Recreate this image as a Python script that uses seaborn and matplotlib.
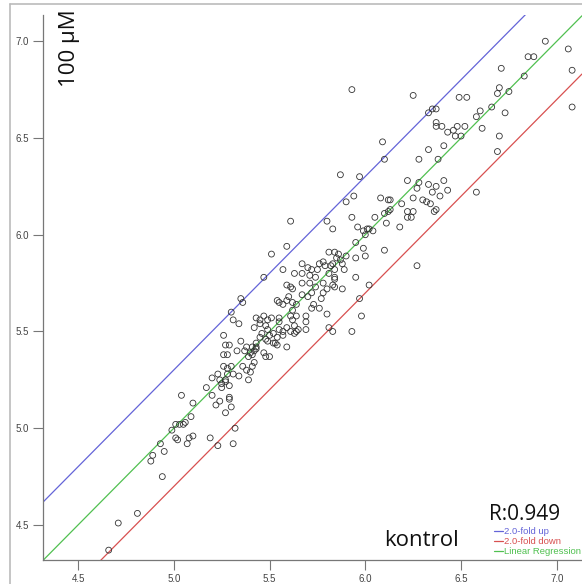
import numpy as np
import pandas as pd
import matplotlib
matplotlib.use("Agg")
import matplotlib.pyplot as plt
from matplotlib.lines import Line2D
import seaborn as sns

# ---- data ----
kontrol = [
    4.66, 4.71, 4.81, 4.94, 4.88, 4.89, 4.93, 4.95, 4.99, 5.01, 5.03, 5.05, 5.06, 5.01, 5.02,
    5.08, 5.10, 5.07, 5.09, 5.10, 5.04, 5.17, 5.19, 5.23, 5.31, 5.32, 5.20, 5.24, 5.22, 5.29,
    5.29, 5.30, 5.27,
    5.20, 5.23, 5.24, 5.27, 5.25, 5.27, 5.29, 5.25,
    5.26, 5.28, 5.30, 5.28, 5.31, 5.34, 5.36, 5.38, 5.39, 5.41, 5.42, 5.40,
    5.26, 5.27, 5.29, 5.28, 5.26, 5.35, 5.33, 5.38, 5.37, 5.39, 5.40, 5.41, 5.42, 5.43, 5.41, 5.43,
    5.47, 5.48, 5.50,
    5.42, 5.48, 5.49, 5.46, 5.48, 5.50, 5.52, 5.54, 5.53, 5.57, 5.57, 5.63, 5.64, 5.59, 5.54,
    5.45, 5.43, 5.49, 5.47, 5.45, 5.51, 5.55,
    5.55, 5.45, 5.49, 5.52, 5.43,
    5.31, 5.34, 5.30,
    5.35, 5.36,
    5.47, 5.57, 5.59, 5.51, 5.61,
    5.59, 5.61, 5.62, 5.60,
    5.54, 5.55, 5.59, 5.57, 5.62, 5.64, 5.62,
    5.67, 5.71, 5.74, 5.72, 5.80, 5.83, 5.84,
    5.67, 5.70, 5.78, 5.77,
    5.73, 5.76, 5.80, 5.72,
    5.61, 5.62, 5.64, 5.69, 5.63, 5.69,
    5.55, 5.59, 5.61, 5.65, 5.69,
    5.81, 5.83, 5.93,
    5.63, 5.67, 5.70, 5.72, 5.71, 5.67, 5.75, 5.74,
    5.76, 5.78, 5.79, 5.82, 5.83, 5.84, 5.81, 5.84,
    5.78, 5.84, 5.88,
    5.95, 6.02, 5.97, 5.98,
    5.81, 5.84, 5.85, 5.86, 5.87, 5.90, 5.88, 5.89,
    5.95, 5.99, 6.00, 5.95, 6.10,
    5.96, 5.99, 6.01, 6.02, 6.04, 6.00,
    5.80, 5.83, 5.93, 6.05, 6.10, 6.13, 6.12, 6.18, 6.11,
    5.90, 5.94, 6.08, 6.12, 6.13,
    6.19, 6.25, 6.30, 6.32, 6.34, 6.22, 6.25, 6.22, 6.24, 6.37, 6.36,
    6.22, 6.28, 6.27, 6.33, 6.41, 6.37, 6.43, 6.35, 6.39, 6.58,
    5.87, 5.97, 6.10, 6.28, 6.38, 6.09,
    6.33, 6.41, 6.69,
    6.37, 6.37, 6.40, 6.46, 6.48, 6.52, 6.47, 6.50, 6.43, 6.61, 6.70,
    6.33, 6.35, 6.37, 6.66, 6.60, 6.58, 6.73, 7.08,
    6.49, 6.53, 6.69, 6.70, 6.75,
    5.93, 6.25, 6.71, 6.83, 7.08, 6.85, 6.88, 6.94, 7.06,
    6.27,
]
treated_100uM = [
    4.37, 4.51, 4.56, 4.75, 4.83, 4.86, 4.92, 4.88, 4.99, 5.02, 5.02, 5.02, 5.03, 4.95, 4.94,
    4.95, 4.96, 4.92, 5.06, 5.13, 5.17, 5.21, 4.95, 4.91, 4.92, 5.00, 5.17, 5.14, 5.12, 5.16,
    5.15, 5.11, 5.08,
    5.26, 5.28, 5.25, 5.25, 5.23, 5.24, 5.22, 5.21,
    5.32, 5.31, 5.32, 5.28, 5.28, 5.27, 5.32, 5.30, 5.25, 5.32, 5.34, 5.29,
    5.48, 5.43, 5.43, 5.38, 5.38, 5.45, 5.40, 5.42, 5.40, 5.37, 5.39, 5.42, 5.40, 5.42, 5.38, 5.41,
    5.39, 5.37, 5.37,
    5.52, 5.53, 5.51, 5.49, 5.46, 5.48, 5.49, 5.47, 5.44, 5.50, 5.48, 5.49, 5.50, 5.42, 5.43,
    5.56, 5.57, 5.56, 5.58, 5.54, 5.57, 5.57,
    5.51, 5.47, 5.45, 5.44, 5.44,
    5.56, 5.54, 5.60,
    5.67, 5.65,
    5.78, 5.82, 5.94, 5.90, 6.07,
    5.74, 5.73, 5.72, 5.68,
    5.66, 5.65, 5.66, 5.64, 5.65, 5.64, 5.61,
    5.75, 5.75, 5.73, 5.70, 5.72, 5.74, 5.77,
    5.69, 5.68, 5.70, 5.67,
    5.64, 5.62, 5.59, 5.62,
    5.58, 5.56, 5.58, 5.58, 5.53, 5.55,
    5.55, 5.52, 5.50, 5.51, 5.51,
    5.52, 5.50, 5.50,
    5.80, 5.85, 5.83, 5.82, 5.79, 5.80, 5.82, 5.78,
    5.85, 5.86, 5.84, 5.84, 5.85, 5.82, 5.80, 5.78,
    5.75, 5.73, 5.72,
    5.78, 5.74, 5.67, 5.58,
    5.91, 5.91, 5.88, 5.90, 5.87, 5.89, 5.85, 5.82,
    5.96, 5.93, 5.89, 5.88, 5.92,
    6.04, 6.02, 6.03, 6.03, 6.02, 6.00,
    6.07, 6.03, 6.09, 6.09, 6.11, 6.13, 6.12, 6.04, 6.06,
    6.17, 6.20, 6.19, 6.18, 6.18,
    6.16, 6.19, 6.18, 6.17, 6.16, 6.12, 6.12, 6.09, 6.09, 6.13, 6.12,
    6.28, 6.27, 6.24, 6.26, 6.28, 6.25, 6.23, 6.22, 6.20, 6.22,
    6.31, 6.30, 6.39, 6.39, 6.39, 6.48,
    6.44, 6.46, 6.43,
    6.58, 6.56, 6.56, 6.54, 6.56, 6.56, 6.51, 6.51, 6.53, 6.55, 6.51,
    6.63, 6.65, 6.65, 6.66, 6.64, 6.61, 6.63, 6.66,
    6.71, 6.71, 6.73, 6.76, 6.74,
    6.75, 6.72, 6.86, 6.82, 6.85, 6.92, 6.92, 7.00, 6.96,
    5.84,
]
x_ticks = [4.5, 5.0, 5.5, 6.0, 6.5, 7.0]
y_ticks = [4.5, 5.0, 5.5, 6.0, 6.5, 7.0]
fold_change = 2.0
reg_slope, reg_intercept = 1.0, 0.0
r_value = 0.949
line_labels = ["2.0-fold up", "2.0-fold down", "Linear Regression"]
line_colors = ["#6464d8", "#d85050", "#50c050"]

df = pd.DataFrame({"kontrol": kontrol, "100 µM": treated_100uM})

# ---- figure ----
W, H = 582, 584
fig = plt.figure(figsize=(W / 100, H / 100), dpi=100)
sns.set_style("white")
plt.rcParams["font.family"] = ["Liberation Sans", "DejaVu Sans"]

ax_left, ax_bottom = 43 / W, 24 / H
ax = fig.add_axes([ax_left, ax_bottom, 1 - ax_left, 545 / H])

xlim = (4.317, 4.317 + (W - 43) / 191.5)
ylim = (4.319, 4.319 + 545 / 193.5)
ax.set_xlim(*xlim)
ax.set_ylim(*ylim)

# reference lines
xs = np.array(xlim)
offset = np.log10(fold_change)
sns.lineplot(x=xs, y=xs + offset, ax=ax, color=line_colors[0], lw=0.9, label=line_labels[0])
sns.lineplot(x=xs, y=xs - offset, ax=ax, color=line_colors[1], lw=0.9, label=line_labels[1])
sns.lineplot(x=xs, y=reg_slope * xs + reg_intercept, ax=ax, color=line_colors[2], lw=0.9,
             label=line_labels[2])

# points
sns.scatterplot(data=df, x="kontrol", y="100 µM", ax=ax, marker="o", s=18,
                facecolors="none", edgecolor="#333333", linewidth=0.6, legend=False, zorder=3)

ax.set_xticks(x_ticks)
ax.set_yticks(y_ticks)
ax.set_xticklabels([f"{v:.1f}" for v in x_ticks])
ax.set_yticklabels([f"{v:.1f}" for v in y_ticks])
ax.tick_params(axis="both", direction="out", length=7, width=0.8, color="#777777",
               labelsize=7, labelcolor="#444444", pad=3)
ax.tick_params(axis="x", bottom=True)
ax.tick_params(axis="y", left=True)
for side in ("top", "right"):
    ax.spines[side].set_visible(False)
for side in ("left", "bottom"):
    ax.spines[side].set_color("#777777")
    ax.spines[side].set_linewidth(0.9)
ax.set_xlabel("")
ax.set_ylabel("")
ax.grid(False)

# annotations
fig.text(70 / W, 1 - 48 / H, "100 µM", rotation=90, ha="center", va="center",
         fontsize=16, family=["Open Sans", "DejaVu Sans"], color="#111111")
fig.text(422 / W, 1 - 540 / H, "kontrol", ha="center", va="center",
         fontsize=16, family=["Open Sans", "DejaVu Sans"], color="#111111")
fig.text(525 / W, 1 - 515 / H, f"R:{r_value:.3f}", ha="center", va="center",
         fontsize=15, family=["Open Sans", "DejaVu Sans"], color="#111111")

leg = ax.legend(loc="upper left", bbox_to_anchor=(494 / W, 1 - 527 / H),
                bbox_transform=fig.transFigure, frameon=False, fontsize=6.8,
                handlelength=0.9, handletextpad=0.2, labelspacing=0.12,
                borderpad=0, borderaxespad=0, labelcolor="linecolor")

# outer frame of the picture
fig.add_artist(Line2D([10 / W, 10 / W], [0, 1 - 4 / H], transform=fig.transFigure,
                      color="#bbbbbb", lw=1.2))
fig.add_artist(Line2D([10 / W, 1], [1 - 4 / H, 1 - 4 / H], transform=fig.transFigure,
                      color="#bbbbbb", lw=1.2))

fig.savefig("out.png", dpi=100)
